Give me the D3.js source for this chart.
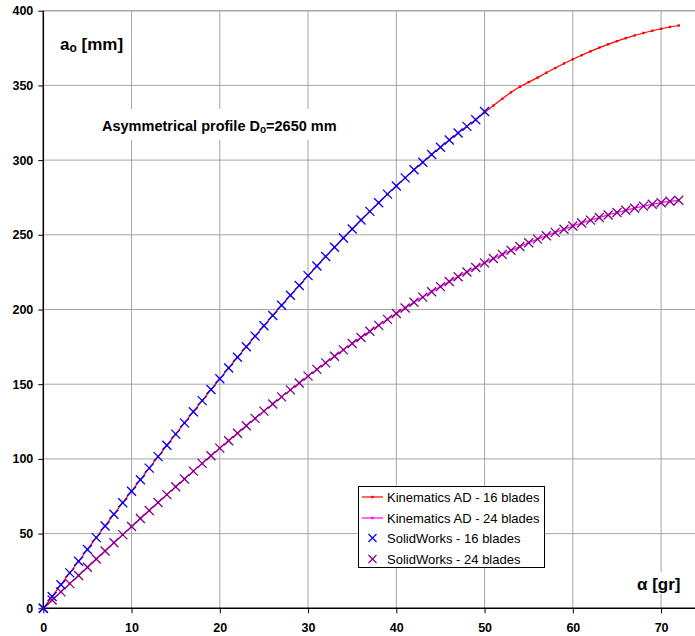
<!DOCTYPE html>
<html><head><meta charset="utf-8">
<script src="https://cdn.jsdelivr.net/npm/d3@7"></script>
<style>
body{margin:0;background:#fff}
svg{display:block}
text{font-family:Arial,"Liberation Sans",sans-serif}
</style></head>
<body><svg id="c" width="695" height="636"></svg>
<script>
// ---- data ----
const alphaDeg = [0,1,2,3,4,5,6,7,8,9,10,11,12,13,14,15,16,17,18,19,20,21,22,23,24,25,26,27,28,29,30,31,32,33,34,35,36,37,38,39,40,41,42,43,44,45,46,47,48,49,50,51,52,53,54,55,56,57,58,59,60,61,62,63,64,65,66,67,68,69,70,71,72];
const kin16 = [0,7.9,15.8,23.7,31.5,39.4,47.3,55.1,62.9,70.7,78.4,86.1,93.8,101.5,109.1,116.6,124.1,131.6,139.0,146.4,153.6,160.9,168.0,175.1,182.2,189.1,196.0,202.8,209.5,216.1,222.7,229.1,235.5,241.7,247.9,253.9,259.9,265.7,271.5,277.2,282.7,288.1,293.5,298.6,303.7,308.6,313.4,318.1,322.6,327.0,331.8,336.5,341.0,345.4,349.1,352.2,355.2,358.5,361.6,364.7,367.5,370.2,372.8,375.3,377.5,379.6,381.6,383.4,385.1,386.6,387.9,389.1,390.1];
const kin24 = [0,5.5,11.0,16.5,22.0,27.5,33.0,38.4,43.9,49.3,54.7,60.1,65.5,70.8,76.1,81.4,86.6,91.8,97.0,102.1,107.2,112.2,117.2,122.2,127.1,132.0,136.8,141.5,146.2,150.8,155.4,159.9,164.3,168.7,173.0,177.2,181.3,185.4,189.4,193.4,197.3,201.0,204.8,208.3,211.9,215.3,218.7,221.9,225.1,228.1,231.2,234.1,236.9,239.6,242.2,244.7,247.1,249.4,251.6,253.7,255.9,257.9,259.8,261.6,263.3,264.9,266.4,267.8,269.2,270.4,271.5,272.4,273.1];
const swAlpha16 = [0,1,2,3,4,5,6,7,8,9,10,11,12,13,14,15,16,17,18,19,20,21,22,23,24,25,26,27,28,29,30,31,32,33,34,35,36,37,38,39,40,41,42,43,44,45,46,47,48,49,50];
const sw16 = [0,7.9,15.8,23.7,31.5,39.4,47.3,55.1,62.9,70.7,78.4,86.1,93.8,101.5,109.1,116.6,124.1,131.6,139.0,146.4,153.6,160.9,168.0,175.1,182.2,189.1,196.0,202.8,209.5,216.1,222.7,229.1,235.5,241.7,247.9,253.9,259.9,265.7,271.5,277.2,282.7,288.1,293.5,298.6,303.7,308.6,313.4,318.1,322.6,327.0,332.5];
const swAlpha24 = alphaDeg;
const sw24 = [0,5.5,11.0,16.5,22.0,27.5,33.0,38.4,43.9,49.3,54.7,60.1,65.5,70.8,76.1,81.4,86.6,91.8,97.0,102.1,107.2,112.2,117.2,122.2,127.1,132.0,136.8,141.5,146.2,150.8,155.4,159.9,164.3,168.7,173.0,177.2,181.3,185.4,189.4,193.4,197.3,201.0,204.8,208.3,211.9,215.3,218.7,221.9,225.1,228.1,231.2,234.1,236.9,239.6,242.2,244.7,247.1,249.4,251.6,253.7,255.9,257.9,259.8,261.6,263.3,264.9,266.4,267.8,269.2,270.4,271.5,272.4,273.1];
const xTicks = [0,10,20,30,40,50,60,70];
const yTicks = [0,50,100,150,200,250,300,350,400];
const legendLabels = ["Kinematics AD - 16 blades","Kinematics AD - 24 blades","SolidWorks - 16 blades","SolidWorks - 24 blades"];

// ---- chart ----
const svg = d3.select("#c");
const x = d3.scaleLinear().domain([0,74]).range([43.3, 696.4]);
const y = d3.scaleLinear().domain([0,400]).range([608.3, 10.7]);

// grid
const grid = svg.append("g");
grid.selectAll("line.v").data(xTicks.slice(1)).enter().append("line")
  .attr("x1", d=>x(d)).attr("x2", d=>x(d)).attr("y1", y(400)).attr("y2", y(0))
  .attr("stroke", "#a6a6a6").attr("stroke-width", 1);
grid.selectAll("line.h").data(yTicks.slice(1)).enter().append("line")
  .attr("x1", x(0)).attr("x2", 695).attr("y1", d=>y(d)).attr("y2", d=>y(d))
  .attr("stroke", "#a6a6a6").attr("stroke-width", d=> d===400?1.5:1);

// annotation boxes (white background hiding grid)
svg.append("rect").attr("x", 97).attr("y", 109).attr("width", 244).attr("height", 31).attr("fill", "#fff");
svg.append("rect").attr("x", 634).attr("y", 572).attr("width", 54).attr("height", 22).attr("fill", "#fff");

// axes
const xAxis = d3.axisBottom(x).tickValues(xTicks).tickSize(5).tickPadding(10).tickFormat(d3.format("d"));
const gx = svg.append("g").attr("transform", `translate(0,${y(0)})`).call(xAxis);
gx.select(".domain").attr("d", `M${x(0)},0H695`).attr("stroke", "#000").attr("stroke-width", 1.5);
gx.selectAll(".tick line").attr("stroke", "#000");
gx.selectAll("text").attr("font-size", 12.5).attr("font-weight", "bold").attr("fill", "#000")
  .attr("font-family", "Arial, 'Liberation Sans', sans-serif");

const yAxis = d3.axisLeft(y).tickValues(yTicks).tickSize(5).tickPadding(5).tickFormat(d3.format("d"));
const gy = svg.append("g").attr("transform", `translate(${x(0)},0)`).call(yAxis);
gy.select(".domain").attr("d", `M0,${y(400)}V${y(0)}`).attr("stroke", "#000").attr("stroke-width", 1.5);
gy.selectAll(".tick line").attr("stroke", "#000");
gy.selectAll("text").attr("font-size", 12.5).attr("font-weight", "bold").attr("fill", "#000")
  .attr("font-family", "Arial, 'Liberation Sans', sans-serif");

// series
const line = d3.line().x(d=>x(d[0])).y(d=>y(d[1]));
const s16 = alphaDeg.map((a,i)=>[a,kin16[i]]);
const s24 = alphaDeg.map((a,i)=>[a,kin24[i]]);
const w16 = swAlpha16.map((a,i)=>[a,sw16[i]]);
const w24 = swAlpha24.map((a,i)=>[a,sw24[i]]);

function cross(g, data, color, r){
  g.selectAll(null).data(data).enter().append("path")
    .attr("d", d=>{const cx=x(d[0]), cy=y(d[1]); return `M${cx-r},${cy-r}L${cx+r},${cy+r}M${cx-r},${cy+r}L${cx+r},${cy-r}`;})
    .attr("stroke", color).attr("stroke-width", 1.3).attr("fill", "none");
}

svg.append("path").datum(s24).attr("d", line).attr("fill","none").attr("stroke","#ff00ff").attr("stroke-width",1.2);
svg.append("g").selectAll("rect").data(s24).enter().append("rect")
  .attr("x", d=>x(d[0])-1.2).attr("y", d=>y(d[1])-1.2).attr("width",2.4).attr("height",2.4).attr("fill","#ff00ff");
cross(svg.append("g"), w24, "#800080", 4.5);

svg.append("path").datum(s16).attr("d", line).attr("fill","none").attr("stroke","#ff0000").attr("stroke-width",1.2);
svg.append("g").selectAll("rect").data(s16).enter().append("rect")
  .attr("x", d=>x(d[0])-1.2).attr("y", d=>y(d[1])-1.2).attr("width",2.4).attr("height",2.4).attr("fill","#ff0000");
cross(svg.append("g"), w16, "#0000ff", 4.5);

// labels
const lab1 = svg.append("text").attr("x", 60).attr("y", 50).attr("font-size", 17).attr("font-weight","bold");
lab1.append("tspan").text("a");
lab1.append("tspan").attr("font-size", 12).attr("dy", 2).text("o");
lab1.append("tspan").attr("dy", -2).text(" [mm]");

const lab2 = svg.append("text").attr("x", 102).attr("y", 131).attr("font-size", 14.5).attr("font-weight","bold");
lab2.append("tspan").text("Asymmetrical profile D");
lab2.append("tspan").attr("font-size", 10).attr("dy", 2).text("o");
lab2.append("tspan").attr("dy", -2).text("=2650 mm");

svg.append("text").attr("x", 637).attr("y", 590).attr("font-size", 17).attr("font-weight","bold").text("α [gr]");

// legend
const lg = svg.append("g");
lg.append("rect").attr("x", 358.5).attr("y", 486.5).attr("width", 186).attr("height", 81)
  .attr("fill","#fff").attr("stroke","#000").attr("stroke-width",1);
const ly = [497, 518, 538, 559];
const lcol = ["#ff0000","#ff00ff","#0000ff","#800080"];
legendLabels.forEach((t,i)=>{
  if(i<2){
    lg.append("line").attr("x1",362).attr("x2",383).attr("y1",ly[i]).attr("y2",ly[i]).attr("stroke",lcol[i]).attr("stroke-width",1.2);
    lg.append("rect").attr("x",371.3).attr("y",ly[i]-1.2).attr("width",2.4).attr("height",2.4).attr("fill",lcol[i]);
  } else {
    const cx=372.5, cy=ly[i], r=4;
    lg.append("path").attr("d",`M${cx-r},${cy-r}L${cx+r},${cy+r}M${cx-r},${cy+r}L${cx+r},${cy-r}`).attr("stroke",lcol[i]).attr("stroke-width",1.2);
  }
  lg.append("text").attr("x",387).attr("y",ly[i]+4.5).attr("font-size",13).text(t);
});
</script></body></html>
